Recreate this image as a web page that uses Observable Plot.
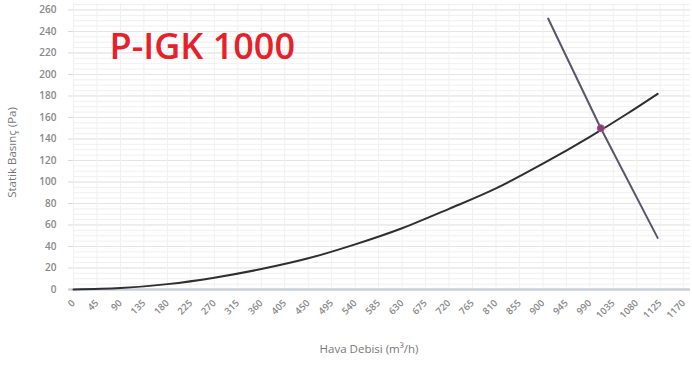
<!DOCTYPE html>
<html>
<head>
<meta charset="utf-8">
<script src="https://cdn.jsdelivr.net/npm/d3@7"></script>
<script src="https://cdn.jsdelivr.net/npm/@observablehq/plot@0.6"></script>
<style>
  html, body { margin: 0; padding: 0; background: #ffffff; }
  #chart { width: 692px; height: 371px; overflow: hidden; }
</style>
</head>
<body>
<div id="chart"></div>
<script>
const title = "P-IGK 1000";
const xLabel = "Hava Debisi (m³/h)";
const yLabel = "Statik Basınç (Pa)";
const xTicks = [0, 45, 90, 135, 180, 225, 270, 315, 360, 405, 450, 495, 540, 585, 630, 675, 720, 765, 810, 855, 900, 945, 990, 1035, 1080, 1125, 1170];
const yTicks = [0, 20, 40, 60, 80, 100, 120, 140, 160, 180, 200, 220, 240, 260];
const systemFlow = [0, 90, 180, 270, 360, 450, 540, 630, 720, 810, 900, 990, 1060, 1120];
const systemPressure = [0, 1.3, 5, 11, 19, 29, 42, 57, 75, 94, 117, 142, 163, 182];
const fanFlow = [910, 1011, 1120];
const fanPressure = [252, 150, 48];
const opFlow = [1011];
const opPressure = [150];

const system = systemFlow.map((x, i) => ({x, y: systemPressure[i]}));
const fan = fanFlow.map((x, i) => ({x, y: fanPressure[i]}));
const op = opFlow.map((x, i) => ({x, y: opPressure[i]}));
const minorY = d3.range(0, 266, 5);

const chart = Plot.plot({
  width: 692,
  height: 371,
  marginLeft: 73,
  marginRight: 2,
  marginTop: 3,
  marginBottom: 82,
  style: {fontFamily: "'Open Sans', sans-serif", background: "#ffffff"},
  x: {domain: [0, 1183]},
  y: {domain: [0, 266]},
  marks: [
    Plot.ruleY(minorY, {stroke: "#f1efef", strokeWidth: 1}),
    Plot.ruleY(yTicks, {stroke: "#e4e4e4", strokeWidth: 1}),
    Plot.ruleX(xTicks, {stroke: "#f0f0f0", strokeWidth: 1}),
    Plot.axisY({ticks: yTicks, tickSize: 5, tickPadding: 12, stroke: "#d8d8d8", fill: "#888", fontSize: 10,
      fontWeight: 600, tickFormat: d3.format("d"), label: null}),
    Plot.axisX({ticks: xTicks, tickSize: 0, tickRotate: -45, tickPadding: 12, fill: "#888", fontSize: 9.5,
      fontWeight: 600, tickFormat: d3.format("d"), label: null}),
    Plot.ruleY([0], {stroke: "#c9d0d8", strokeWidth: 2.5, x1: -9, x2: 1183}),
    Plot.line(system, {x: "x", y: "y", stroke: "#2e2e33", strokeWidth: 2, curve: "monotone-x"}),
    Plot.line(fan, {x: "x", y: "y", stroke: "#58566e", strokeWidth: 2}),
    Plot.dot(op, {x: "x", y: "y", r: 3.5, fill: "#8c3c74", stroke: "#a05a8a", strokeWidth: 1}),
    Plot.text([title], {frameAnchor: "top-left", dx: 36, dy: 30, fill: "#e8202a", fontSize: 36, fontWeight: 600,
      fontFamily: "'Open Sans', sans-serif", textAnchor: "start", lineAnchor: "top"}),
    Plot.text([yLabel], {frameAnchor: "left", dx: -61, dy: 6, rotate: -90, fill: "#777", fontSize: 11.5,
      textAnchor: "middle"}),
    Plot.text([xLabel], {frameAnchor: "bottom", dx: -13, dy: 63, fill: "#777", fontSize: 11.5,
      textAnchor: "middle"})
  ]
});
document.getElementById("chart").appendChild(chart);
</script>
</body>
</html>
